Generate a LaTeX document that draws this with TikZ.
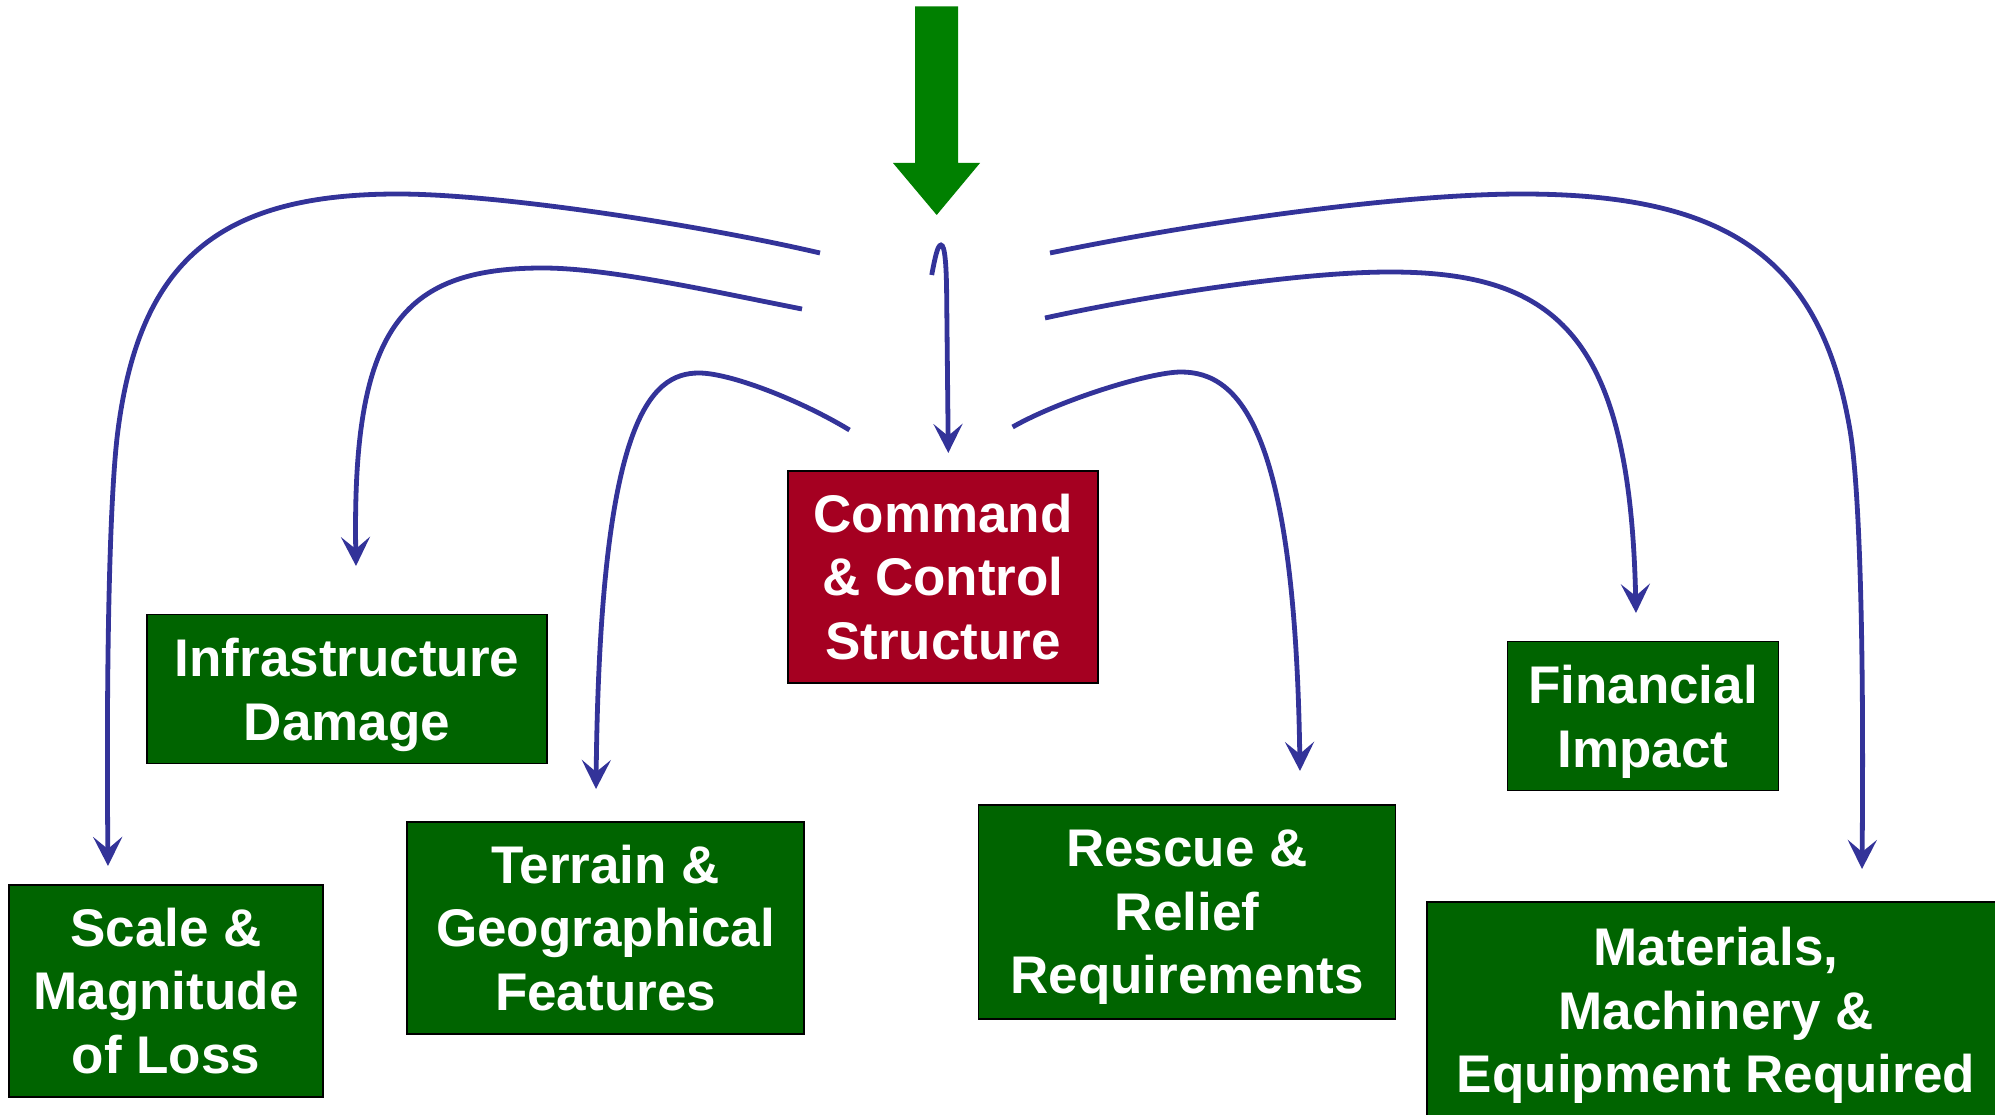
\documentclass[tikz,border=0pt]{standalone}
\usepackage{fontspec}
\setmainfont{Liberation Sans}
\usetikzlibrary{arrows.meta}

\definecolor{linkblue}{RGB}{51,51,153}
\definecolor{boxgreen}{RGB}{0,100,0}
\definecolor{boxred}{RGB}{165,0,33}
\definecolor{arrowgreen}{RGB}{0,128,0}

% last line of a box: ignore descenders so the block centres on the letters
\newcommand{\lastline}[1]{\raisebox{0pt}[\height][0pt]{#1}}

\begin{document}
\begin{tikzpicture}[x=1pt,y=1pt,
  factor/.style={draw=black, line width=1.8pt, fill=boxgreen, text=white,
    font=\fontsize{53}{63.6}\selectfont\bfseries, align=center, inner sep=0pt},
  core/.style={factor, fill=boxred},
  link/.style={draw=linkblue, line width=4.8pt,
    -{Stealth[length=29pt,width=29pt,inset=12pt]}},
]
\useasboundingbox (0,0) rectangle (1995,-1115);

% central item and the factors around it
\node[core, minimum width=310pt, minimum height=212pt] (cmd) at (943,-577)
  {Command\\\& Control\\Structure};
\node[factor, minimum width=400pt, minimum height=149pt] (infra) at (347,-689)
  {Infrastructure\\\lastline{Damage}};
\node[factor, minimum width=314pt, minimum height=212pt] (scale) at (166,-991)
  {Scale \&\\Magnitude\\of Loss};
\node[factor, minimum width=397pt, minimum height=212pt] (terrain) at (605.6,-928)
  {Terrain \&\\Geographical\\Features};
\node[factor, minimum width=417pt, minimum height=214pt] (rescue) at (1187,-912)
  {Rescue \&\\Relief\\\lastline{Requirements}};
\node[factor, minimum width=271pt, minimum height=149pt] (finance) at (1643,-716)
  {Financial\\\lastline{Impact}};
\node[factor, minimum width=578pt, minimum height=216pt] (materials) at (1716,-1010)
  {Materials,\\Machinery \&\\\lastline{Equipment Required}};

% big green input arrow
\fill[arrowgreen] (915,-6.5) -- (958,-6.5) -- (958,-163) -- (980,-163)
  -- (936.7,-215) -- (893,-163) -- (915,-163) -- cycle;

% loose ends of the connectors and their arrow tips
\coordinate (sL1) at (820,-253);   \coordinate (tL1) at (108,-866);
\coordinate (sL2) at (802,-309);   \coordinate (tL2) at (356,-566);
\coordinate (sL3) at (849.5,-430); \coordinate (tL3) at (596,-789);
\coordinate (sC)  at (931.7,-275); \coordinate (tC)  at (948.3,-453);
\coordinate (sR3) at (1012.6,-427);\coordinate (tR3) at (1300,-771);
\coordinate (sR2) at (1045,-318);  \coordinate (tR2) at (1636,-613);
\coordinate (sR1) at (1050,-253);  \coordinate (tR1) at (1862,-869);

% connectors
\draw[link] (sL1) .. controls (700,-225) and (500,-194) .. (398,-194)
  .. controls (220,-194) and (140,-260) .. (118,-430)
  .. controls (110,-490) and (106,-650) .. (tL1);
\draw[link] (sL2) .. controls (720,-293) and (610,-268) .. (543,-268)
  .. controls (400,-268) and (352,-330) .. (tL2);
\draw[link] (sL3) .. controls (800,-400) and (730,-373) .. (699,-373)
  .. controls (650,-373) and (600,-420) .. (tL3);
\draw[link] (sC) .. controls (935,-258) and (937.5,-245) .. (941,-245)
  .. controls (945,-245) and (946.5,-265) .. (946.7,-300) -- (tC);
\draw[link] (sR3) .. controls (1060,-400) and (1150,-372) .. (1181,-372)
  .. controls (1240,-372) and (1295,-430) .. (tR3);
\draw[link] (sR2) .. controls (1150,-295) and (1300,-272) .. (1390,-272)
  .. controls (1560,-272) and (1630,-340) .. (tR2);
\draw[link] (sR1) .. controls (1200,-222) and (1400,-194) .. (1522,-194)
  .. controls (1730,-194) and (1821,-260) .. (1850,-430)
  .. controls (1860,-490) and (1864,-650) .. (tR1);
\end{tikzpicture}
\end{document}
